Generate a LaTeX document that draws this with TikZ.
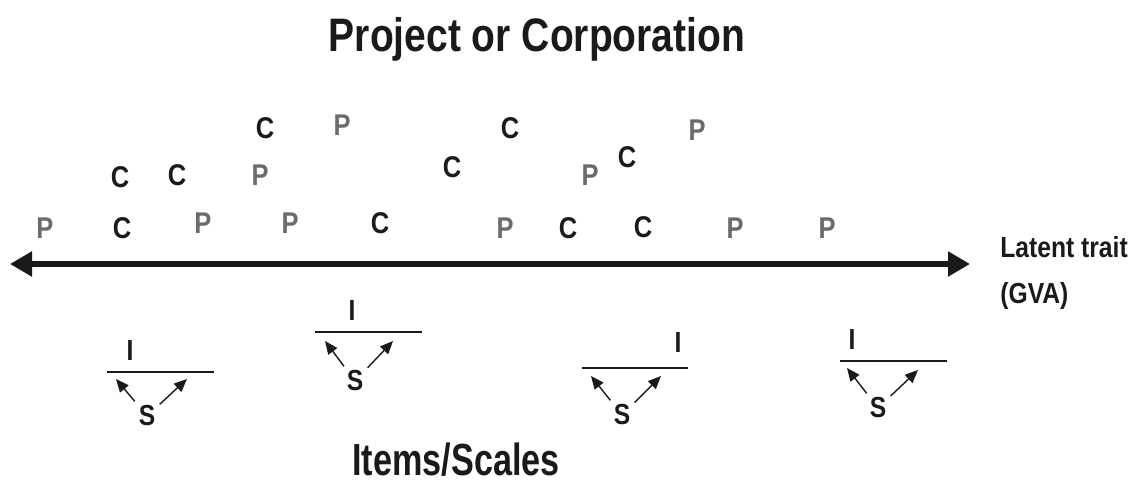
\documentclass[tikz,border=0pt]{standalone}
\usepackage{fontspec}
\setmainfont{Liberation Sans}[FakeStretch=0.85]
\newfontfamily\headfont{Liberation Sans}[FakeStretch=0.83]
\newfontfamily\itemsfont{Liberation Sans}[FakeStretch=0.76]
\usetikzlibrary{arrows.meta}
\definecolor{ink}{HTML}{1A1A1A}
\definecolor{pgray}{HTML}{6B6B6B}
\begin{document}
\begin{tikzpicture}[x=0.5pt,y=-0.5pt,
  every node/.style={inner sep=0pt, text=ink},
  headline/.style={font=\fontsize{23.5}{26}\headfont\bfseries, anchor=base},
  itemsline/.style={font=\fontsize{22.5}{26}\itemsfont\bfseries, anchor=base},
  cnode/.style={font=\fontsize{15}{17}\selectfont\bfseries, text=ink},
  pnode/.style={font=\fontsize{15}{17}\selectfont\bfseries, text=pgray},
  itemlabel/.style={font=\fontsize{14.5}{16}\selectfont\bfseries},
  scalelabel/.style={font=\fontsize{14.5}{16}\selectfont\bfseries, inner sep=2pt},
  itembar/.style={draw=ink, line width=1.3pt},
  scalearrow/.style={draw=ink, line width=0.7pt, -{Triangle[length=6.5pt,width=5.5pt]}},
  traitaxis/.style={draw=ink, line width=2.6pt,
    {Triangle[length=11pt,width=12pt]}-{Triangle[length=11pt,width=12pt]}},
  traitlabel/.style={font=\fontsize{14.5}{23}\selectfont\bfseries, align=left, anchor=west}]
\useasboundingbox (0,0) rectangle (1144,502);

% headings
\node[headline] (title) at (537,52) {Project or Corporation};
\node[itemsline] (items) at (456,475) {Items/Scales};

% latent trait axis
\coordinate (axL) at (10,264);
\coordinate (axR) at (970,264);
\draw[traitaxis] (axL) -- (axR);
\node[traitlabel] (trait) at (1000,273) {Latent trait\\(GVA)};

% projects (P) and corporations (C) placed along the trait
\node[pnode] (p1)  at (45,228)  {P};
\node[cnode] (c1)  at (122,228) {C};
\node[cnode] (c2)  at (120,177) {C};
\node[cnode] (c3)  at (177,175) {C};
\node[pnode] (p2)  at (203,223) {P};
\node[pnode] (p3)  at (260,175) {P};
\node[cnode] (c4)  at (265,128) {C};
\node[pnode] (p4)  at (342,125) {P};
\node[pnode] (p5)  at (290,223) {P};
\node[cnode] (c5)  at (380,223) {C};
\node[cnode] (c6)  at (452,167) {C};
\node[cnode] (c7)  at (510,128) {C};
\node[pnode] (p6)  at (590,175) {P};
\node[cnode] (c8)  at (627,157) {C};
\node[pnode] (p7)  at (697,130) {P};
\node[pnode] (p8)  at (505,228) {P};
\node[cnode] (c9)  at (568,228) {C};
\node[cnode] (c10) at (643,227) {C};
\node[pnode] (p9)  at (735,228) {P};
\node[pnode] (p10) at (827,228) {P};

% item / scale groups
\node[itemlabel] (i1) at (130,351) {I};
\coordinate (b1a) at (107,372); \coordinate (b1b) at (214,372);
\draw[itembar] (b1a) -- (b1b);
\node[scalelabel] (s1) at (147,416) {S};
\coordinate (t1a) at (116,379); \coordinate (t1b) at (187,379);
\draw[scalearrow] (s1) -- (t1a);
\draw[scalearrow] (s1) -- (t1b);

\node[itemlabel] (i2) at (352,311) {I};
\coordinate (b2a) at (315,332); \coordinate (b2b) at (422,332);
\draw[itembar] (b2a) -- (b2b);
\node[scalelabel] (s2) at (355,381) {S};
\coordinate (t2a) at (325,341); \coordinate (t2b) at (393,341);
\draw[scalearrow] (s2) -- (t2a);
\draw[scalearrow] (s2) -- (t2b);

\node[itemlabel] (i3) at (678,343) {I};
\coordinate (b3a) at (582,368); \coordinate (b3b) at (688,368);
\draw[itembar] (b3a) -- (b3b);
\node[scalelabel] (s3) at (622,415) {S};
\coordinate (t3a) at (591,376); \coordinate (t3b) at (661,376);
\draw[scalearrow] (s3) -- (t3a);
\draw[scalearrow] (s3) -- (t3b);

\node[itemlabel] (i4) at (852,340) {I};
\coordinate (b4a) at (840,361); \coordinate (b4b) at (947,361);
\draw[itembar] (b4a) -- (b4b);
\node[scalelabel] (s4) at (878,408) {S};
\coordinate (t4a) at (847,368); \coordinate (t4b) at (918,370);
\draw[scalearrow] (s4) -- (t4a);
\draw[scalearrow] (s4) -- (t4b);
\end{tikzpicture}
\end{document}
